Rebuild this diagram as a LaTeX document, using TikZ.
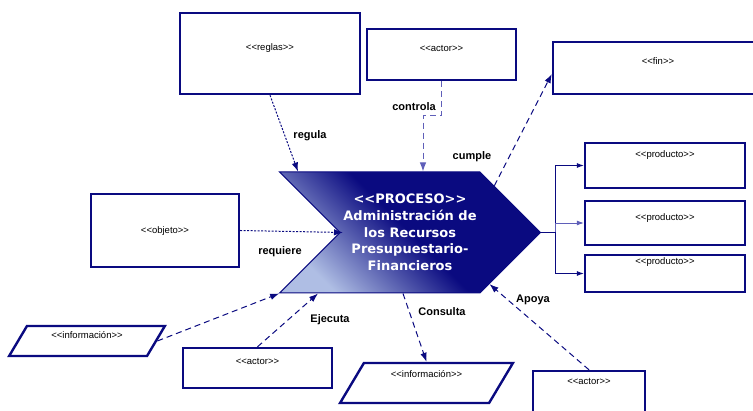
\documentclass[tikz,border=0pt]{standalone}
\usepackage{fontspec}
\setmainfont{Liberation Sans}
\newfontfamily\plainfont{Liberation Sans}
\newfontfamily\widefont{DejaVu Sans}
\usetikzlibrary{shapes.geometric,shapes.symbols,arrows.meta}
\definecolor{navy}{RGB}{10,10,128}
\definecolor{slate}{RGB}{95,95,185}
\definecolor{pale}{RGB}{175,190,228}

\begin{document}
\begin{tikzpicture}[x=1pt,y=-1pt,
  box/.style = {draw=navy, line width=2.4pt, fill=white, rectangle, inner sep=1pt, text height=7pt, font=\plainfont\fontsize{9.5}{10}\selectfont},
  info/.style = {box, trapezium, trapezium left angle=63, trapezium right angle=117, trapezium stretches=true},
  lbl/.style = {font=\bfseries\fontsize{11}{12}\selectfont},
  link/.style = {navy, line width=1pt, dash pattern=on 6pt off 4pt, -{Latex[length=9pt,width=6.5pt]}},
  dots/.style = {navy, line width=1pt, dash pattern=on 2pt off 1.5pt, -{Latex[length=9pt,width=6.5pt]}}]

    \clip (0,0) rectangle (753,411);

    % proceso
    \node[signal, signal to=east, signal from=west, draw=navy, line width=1pt,
          minimum width=254, minimum height=121, bottom color=pale, top color=navy, middle color=navy, shading angle=-45,
          text=white, align=center, font=\widefont\bfseries\fontsize{13}{16.7}\selectfont] (chev) at (410,232.5)
          {<<PROCESO>>\\Administración de\\los Recursos\\Presupuestario-\\Financieros};

    % cajas
    \node[box, minimum width=180, minimum height=81, text depth=13.4pt] (reglas) at (270,53.5) {<<reglas>>};
    \node[box, minimum width=149, minimum height=51, text depth=13.4pt] (actor1) at (441.5,54.5) {<<actor>>};
    \node[box, minimum width=210, minimum height=52, text depth=14.4pt] (fin) at (658,68) {<<fin>>};
    \node[box, minimum width=148, minimum height=73] (objeto) at (165,230.5) {<<objeto>>};

    \node[box, minimum width=160, minimum height=45, text depth=23.4pt] (prod1) at (665,165.5) {<<producto>>};
    \node[box, minimum width=160, minimum height=44, text depth=12.4pt] (prod2) at (665,223) {<<producto>>};
    \node[box, minimum width=160, minimum height=37, text depth=25.4pt] (prod3) at (665,273.5) {<<producto>>};

    \node[info, minimum width=156, minimum height=30, text depth=12.4pt] (info1) at (87,341) {<<información>>};
    \node[info, minimum width=173, minimum height=40, text depth=18.4pt] (info2) at (426.5,383) {<<información>>};
    \node[box, minimum width=149, minimum height=40, text depth=14.4pt] (actor2) at (257.5,368) {<<actor>>};
    \node[box, minimum width=112, minimum height=50, text depth=30.4pt] (actor3) at (589,396) {<<actor>>};

    % etiquetas
    \node[lbl] (lregula) at (310,136) {regula};
    \node[lbl] (lcontrola) at (414,107) {controla};
    \node[lbl] (lcumple) at (472,157) {cumple};
    \node[lbl] (lrequiere) at (280,252) {requiere};
    \node[lbl] (lejecuta) at (330,320) {Ejecuta};
    \node[lbl] (lconsulta) at (442,312) {Consulta};
    \node[lbl] (lapoya) at (533,300) {Apoya};

    % relaciones
    \draw [dots] (reglas.south) -- ([xshift=-112pt]chev.north);
    \draw [link, slate] (actor1.south) -- ++(0,34) -| ([xshift=13pt]chev.north);
    \draw [link] (chev.29) -- ([yshift=-6pt]fin.west);
    \draw [dots] (objeto.east) -- ([xshift=-67pt]chev.center);
    \draw [link] (info1.east) -- (chev.205);
    \draw [link] (actor2.north) -- ([xshift=-92pt]chev.south);
    \draw [link] ([xshift=-7pt]chev.south) -- (info2.north);
    \draw [link] (actor3.north) -- (chev.-33);

    % productos
    \coordinate (fork) at ([xshift=14pt]chev.east);
    \draw [navy, line width=1pt] (chev.east) -- (fork);
    \draw [navy, line width=0.8pt, -{Latex[length=7pt,width=5pt]}] (fork) |- (prod1.west);
    \draw [slate, line width=0.8pt, -{Latex[length=7pt,width=5pt]}] (fork) |- (prod2.west);
    \draw [navy, line width=0.8pt, -{Latex[length=7pt,width=5pt]}] (fork) |- (prod3.west);

\end{tikzpicture}
\end{document}
